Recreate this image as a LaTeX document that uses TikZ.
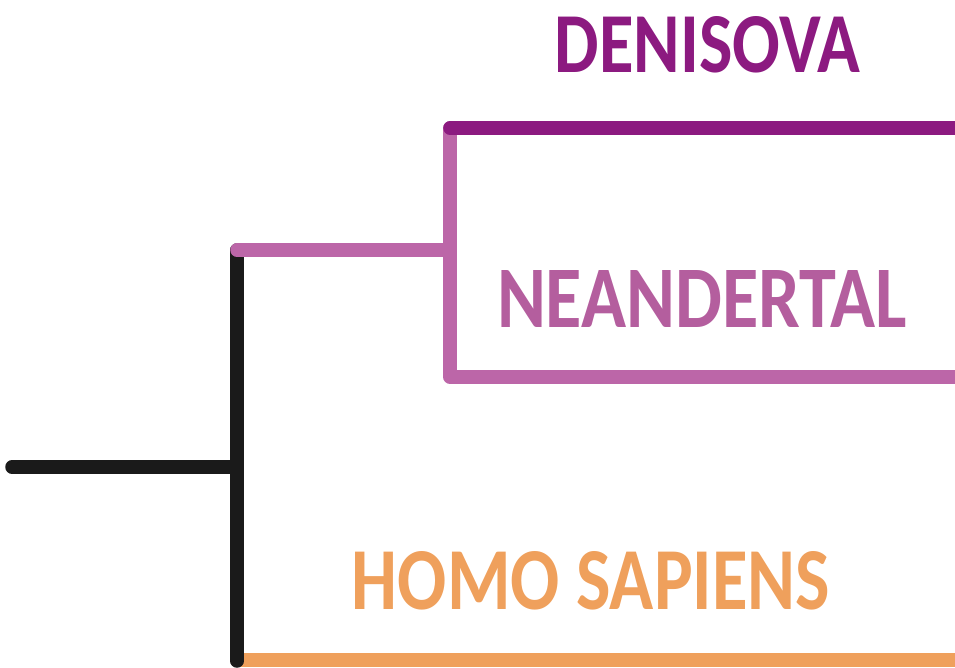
\documentclass[tikz,border=0pt]{standalone}
\usepackage{fontspec}
\setmainfont{Carlito}
\definecolor{denis}{HTML}{8C1A80}
\definecolor{neand}{HTML}{BC66A8}
\definecolor{neandtxt}{HTML}{B45E9E}
\definecolor{sapiens}{HTML}{EFA05C}
\definecolor{treeblack}{HTML}{1A1A1A}
\tikzset{
  branch/.style={line width=13.5pt, line cap=round, line join=round},
  label/.style={inner sep=0pt, anchor=center, font=\bfseries}
}
\begin{document}
\begin{tikzpicture}[x=1pt,y=-1pt]
\useasboundingbox (0,0) rectangle (955,668);
% coordinates
\coordinate (root) at (12,467);
\coordinate (j1) at (237,467);
\coordinate (j1top) at (237,250);
\coordinate (j1bot) at (237,661);
\coordinate (j2) at (450,250);
\coordinate (j2top) at (450,128);
\coordinate (j2bot) at (450,377);
\coordinate (denisEnd) at (962,128);
\coordinate (neandEnd) at (962,377);
\coordinate (sapStart) at (237,660);
\coordinate (sapEnd) at (962,660);
% branches
\draw[branch, sapiens] (sapStart) -- (sapEnd);
\draw[branch, treeblack] (root) -- (j1);
\draw[branch, treeblack] (j1top) -- (j1bot);
\draw[branch, neand] (j1top) -- (j2);
\draw[branch, neand] (j2top) -- (j2bot) -- (neandEnd);
\draw[branch, denis] (j2top) -- (denisEnd);
% labels
\node[label, text=denis] (denisova) at (707.5,44.5) {\resizebox{305pt}{56pt}{DENISOVA}};
\node[label, text=neandtxt] (neandertal) at (702,298.5) {\resizebox{410pt}{57pt}{NEANDERTAL}};
\node[label, text=sapiens] (sapienslabel) at (591,581) {\resizebox{478pt}{58pt}{HOMO SAPIENS}};
\end{tikzpicture}
\end{document}
